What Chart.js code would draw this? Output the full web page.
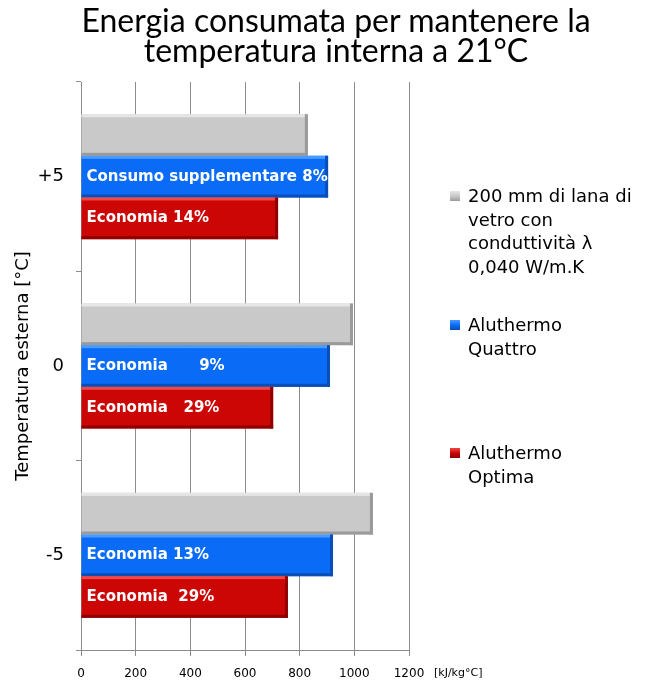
<!DOCTYPE html>
<html>
<head>
<meta charset="utf-8">
<script src="https://cdn.jsdelivr.net/npm/chart.js@4"></script>
<style>
  html, body { margin: 0; padding: 0; background: #fff; }
  #wrap { position: relative; width: 672px; height: 684px; font-family: 'DejaVu Sans', sans-serif; }
  #title { position: absolute; left: 0; top: 5px; width: 672px; text-align: center; font-family: Lato, sans-serif; font-size: 32px; line-height: 30px; color: #000; }
  .leg { position: absolute; left: 452px; font-size: 18px; line-height: 23.5px; color: #000; }
  .leg .box { position: absolute; left: -2px; top: 7px; width: 10px; height: 10px; }
  .leg .txt { margin-left: 16px; }
</style>
</head>
<body>
<div id="wrap">
  <canvas id="chart" width="672" height="684"></canvas>
  <div id="title">Energia consumata per mantenere la<br>temperatura interna a 21°C</div>
  <div id="legend"></div>
</div>
<script>
const categories = ['+5', '0', '-5']
const seriesNames = [
  ['200 mm di lana di', 'vetro con', 'conduttività λ', '0,040 W/m.K'],
  ['Aluthermo', 'Quattro'],
  ['Aluthermo', 'Optima']
]
const glassWool = [830, 995, 1068]
const quattro = [904, 911, 922]
const optima = [721, 703, 757]
const quattroLabels = ['Consumo supplementare 8%', 'Economia      9%', 'Economia 13%']
const optimaLabels = ['Economia 14%', 'Economia   29%', 'Economia  29%']
const xTicks = [0, 200, 400, 600, 800, 1000, 1200]
const colors = ['#c9c9c9', '#0a6cf6', '#cc0505']
const edgeColors = ['#9a9a9a', '#0a4fb8', '#8f0000']
const lightColors = ['#e6e6e6', '#4a9bff', '#f04848']
const legendTops = [184, 313, 441]

// legend as html, multi-line labels
const legendEl = document.getElementById('legend')
seriesNames.forEach((lines, i) => {
  const d = document.createElement('div')
  d.className = 'leg'
  d.style.top = legendTops[i] + 'px'
  d.innerHTML = '<span class="box" style="background:linear-gradient(' + lightColors[i] + ',' + colors[i] + ' 50%,' + edgeColors[i] + ')"></span><div class="txt">' + lines.join('<br>') + '</div>'
  legendEl.appendChild(d)
})

// bevel look + labels inside bars
const barDecor = {
  id: 'barDecor',
  afterDatasetsDraw(chart) {
    const ctx = chart.ctx
    chart.data.datasets.forEach((ds, di) => {
      const meta = chart.getDatasetMeta(di)
      meta.data.forEach((bar, i) => {
        const top = bar.y - bar.height / 2
        const bottom = bar.y + bar.height / 2
        const left = bar.base
        const right = bar.x
        ctx.save()
        ctx.fillStyle = lightColors[di]
        ctx.fillRect(left, top, right - left, 3)
        ctx.fillStyle = edgeColors[di]
        ctx.fillRect(left, bottom - 3, right - left, 3)
        ctx.fillRect(right - 3, top, 3, bottom - top)
        ctx.restore()

        const labels = di === 1 ? quattroLabels : di === 2 ? optimaLabels : null
        if (labels) {
          ctx.save()
          ctx.fillStyle = '#fff'
          ctx.font = 'bold 15px "DejaVu Sans", sans-serif'
          ctx.textBaseline = 'middle'
          ctx.textAlign = 'left'
          ctx.fillText(labels[i].replace(/ {2,}/g, m => '\u00a0'.repeat(m.length)), left + 5, bar.y)
          ctx.restore()
        }
      })
    })
    // unit label next to the x ticks
    ctx.save()
    ctx.fillStyle = '#000'
    ctx.font = '11px "DejaVu Sans", sans-serif'
    ctx.textBaseline = 'middle'
    ctx.fillText('[kJ/kg°C]', 434, 673)
    ctx.restore()
  }
}

new Chart(document.getElementById('chart'), {
  type: 'bar',
  data: {
    labels: categories,
    datasets: [glassWool, quattro, optima].map((data, i) => ({
      label: seriesNames[i].join(' '),
      data,
      backgroundColor: colors[i],
      borderColor: edgeColors[i],
      borderWidth: 0,
      categoryPercentage: 0.66,
      barPercentage: 1
    }))
  },
  options: {
    indexAxis: 'y',
    responsive: false,
    animation: false,
    layout: { padding: { top: 82, right: 263, left: 0, bottom: 0 } },
    scales: {
      x: {
        min: 0,
        max: 1200,
        afterBuildTicks(scale) {
          scale.ticks = xTicks.map(v => ({ value: v }))
        },
        afterFit(scale) { scale.height = 34 },
        grid: { color: '#8c8c8c', tickLength: 6, drawTicks: true },
        border: { color: '#8c8c8c' },
        ticks: {
          color: '#000',
          font: { size: 12, family: '"DejaVu Sans", sans-serif' },
          padding: 11,
          callback: v => String(v)
        }
      },
      y: {
        offset: true,
        afterFit(scale) { scale.width = 81 },
        grid: { drawOnChartArea: false, color: '#8c8c8c', tickLength: 5, offset: true },
        border: { color: '#8c8c8c' },
        ticks: { color: '#000', font: { size: 18, family: '"DejaVu Sans", sans-serif' }, padding: 12 },
        title: {
          display: true,
          text: 'Temperatura esterna [°C]',
          color: '#000',
          font: { size: 18, family: '"DejaVu Sans", sans-serif' },
          padding: { top: 13, bottom: 0 }
        }
      }
    },
    plugins: {
      legend: { display: false },
      title: { display: false },
      tooltip: { enabled: false }
    }
  },
  plugins: [barDecor]
})
</script>
</body>
</html>
